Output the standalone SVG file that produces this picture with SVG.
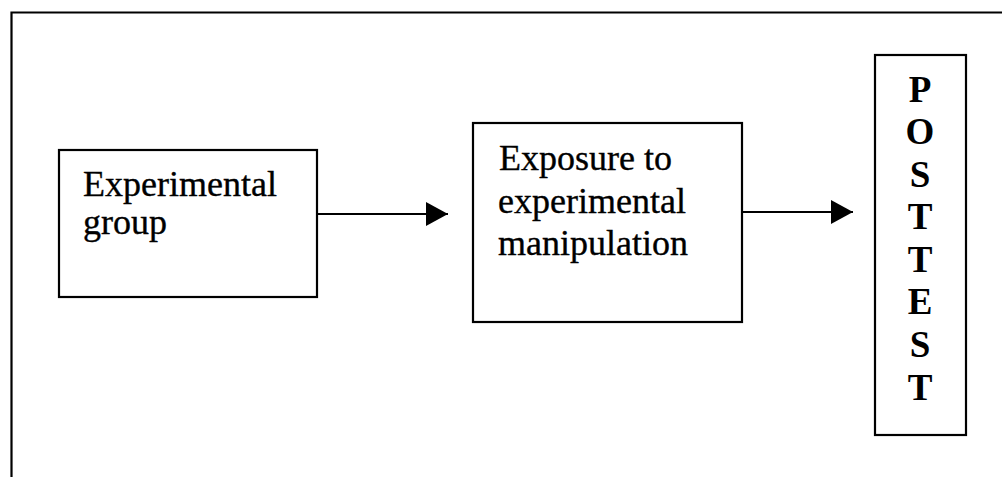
<svg xmlns="http://www.w3.org/2000/svg" width="1002" height="477" viewBox="0 0 1002 477">
<style>
.box{fill:#fff;stroke:#000;stroke-width:2.2}
.frame{fill:none;stroke:#000;stroke-width:2.2}
.edge{fill:none;stroke:#000;stroke-width:2}
.lbl{font-family:"Liberation Serif","Times New Roman",serif;font-size:36px;fill:#000;stroke:#000;stroke-width:0.35}
.vert{font-family:"Liberation Serif","Times New Roman",serif;font-size:37px;font-weight:bold;fill:#000;text-anchor:middle}
</style>
<defs>
<marker id="arr" markerWidth="22" markerHeight="24" refX="22" refY="12" orient="auto" markerUnits="userSpaceOnUse">
<path d="M0,0 L22,12 L0,24 Z" fill="#000"/>
</marker>
</defs>
<rect width="1002" height="477" fill="#fff"/>
<path class="frame" d="M11.5,477 L11.5,12.5 L1002,12.5"/>
<g id="connectors">
<line class="edge" x1="317" y1="214" x2="448" y2="214" marker-end="url(#arr)"/>
<line class="edge" x1="742" y1="212" x2="853" y2="212" marker-end="url(#arr)"/>
</g>
<g id="node-experimental-group">
<rect class="box" x="59" y="150" width="258" height="147"/>
<text class="lbl" x="83" y="196">Experimental</text>
<text class="lbl" x="83" y="234">group</text>
</g>
<g id="node-exposure">
<rect class="box" x="473" y="123" width="269" height="199"/>
<text class="lbl" x="499" y="170">Exposure to</text>
<text class="lbl" x="498" y="212.5">experimental</text>
<text class="lbl" x="498" y="255">manipulation</text>
</g>
<g id="node-posttest">
<rect class="box" x="875" y="55" width="91" height="380"/>
<text class="vert" x="920" y="101.5">P</text>
<text class="vert" x="920" y="144">O</text>
<text class="vert" x="920" y="186.5">S</text>
<text class="vert" x="920" y="229">T</text>
<text class="vert" x="920" y="271.5">T</text>
<text class="vert" x="920" y="314">E</text>
<text class="vert" x="920" y="357">S</text>
<text class="vert" x="920" y="399.5">T</text>
</g>
</svg>
